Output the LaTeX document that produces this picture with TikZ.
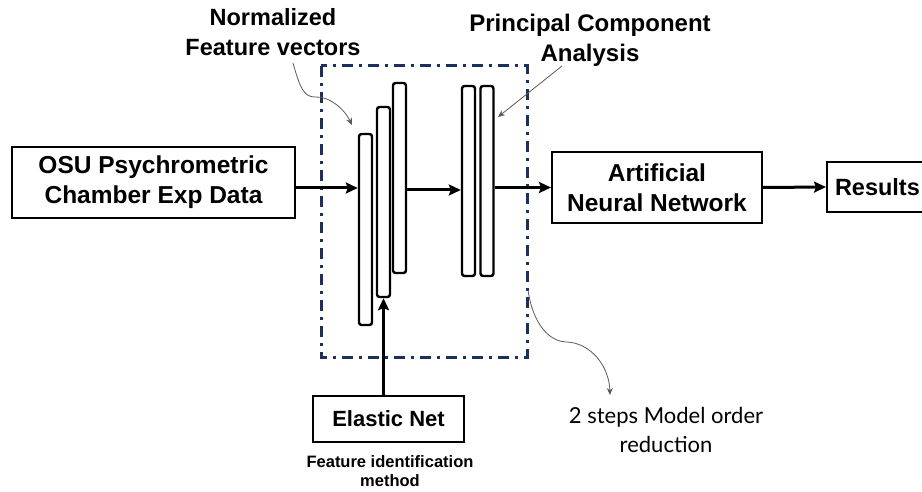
\documentclass[tikz,border=0pt]{standalone}
\usepackage{fontspec}
\setmainfont{Liberation Sans}
\newfontfamily\gillfont{Lato}
\usetikzlibrary{arrows.meta}
\definecolor{navy}{RGB}{28,48,96}
\begin{document}
\begin{tikzpicture}[x=1pt,y=-1pt,
  box/.style={draw, line width=2pt, inner sep=0pt, align=center,
    font=\bfseries\fontsize{24.5}{30}\selectfont},
  bar/.style={draw, line width=2.4pt, rounded corners=2.5pt, minimum width=13pt, inner sep=0pt},
  arr/.style={line width=3pt, -{Stealth[length=12pt,width=11pt,inset=2pt]}},
  note/.style={draw=black!65, line width=0.8pt, -{Stealth[length=7pt,width=6pt]}},
  lbl/.style={align=center, inner sep=0pt, font=\bfseries\fontsize{24}{30}\selectfont}]
\useasboundingbox (0,0) rectangle (922,492);
\clip (0,0) rectangle (922,492);

% dashed frame
\draw[navy, line width=3pt, dash pattern=on 11pt off 6pt on 3pt off 6pt] (321,66) rectangle (527,357);

% boxes
\node[box, minimum width=283pt, minimum height=71pt] (osu) at (153.5,182.5) {OSU Psychrometric\\Chamber Exp Data};
\node[box, minimum width=210pt, minimum height=71pt] (ann) at (657,187.5) {Artificial\\Neural Network};
\node[box, anchor=west, minimum height=50pt, inner xsep=8pt, font=\bfseries\fontsize{23.5}{28}\selectfont] (res) at (826,187) {Results};
\node[box, minimum width=151pt, minimum height=46pt, font=\bfseries\fontsize{22}{26}\selectfont] (en) at (388.5,419) {Elastic Net};

% bars
\node[bar, minimum height=191pt] (b1) at (365.5,229.5) {};
\node[bar, minimum height=190pt] (b2) at (383.5,202) {};
\node[bar, minimum height=190pt] (b3) at (399.5,178) {};
\node[bar, minimum height=190pt] (b4) at (468.5,181) {};
\node[bar, minimum height=190pt] (b5) at (487,181) {};

% labels
\node[lbl, font=\bfseries\fontsize{23.5}{30}\selectfont] (nfv) at (273,32) {Normalized\\Feature vectors};
\node[lbl] (pca) at (590,40) {Principal Component\\Analysis};
\node[lbl, font=\bfseries\fontsize{16.5}{18.5}\selectfont] (fim) at (390,471) {Feature identification\\method};
\node[align=center, inner sep=0pt, font=\gillfont\fontsize{22}{29}\selectfont] (mor) at (666,430) {2 steps Model order\\reduction};

% main arrows
\coordinate (m) at (0,188);
\draw[arr] (osu.east |- m) -- (b1.west |- m);
\draw[arr] (b3.east |- 0,190) -- (b4.west |- 0,190);
\draw[arr] (b5.east |- ann.west) -- (ann.west);
\draw[arr] (ann.east) -- (res.west);
\draw[arr] (b2.south |- en.north) -- (b2.south);

% annotation arrows
\coordinate (n0) at (293,63);
\coordinate (n1) at (352,125);
\draw[note] (n0) .. controls (300,88) and (304,97) .. (315,97) .. controls (330,96) and (345,110) .. (n1);
\coordinate (p0) at (562,66);
\coordinate (p1) at (498,117);
\draw[note] (p0) -- (p1);
\coordinate (r0) at (528,290);
\coordinate (r1) at (610,395);
\draw[note] (r0) .. controls (533,325) and (550,342) .. (567,342) .. controls (590,343) and (609,365) .. (r1);
\end{tikzpicture}
\end{document}
